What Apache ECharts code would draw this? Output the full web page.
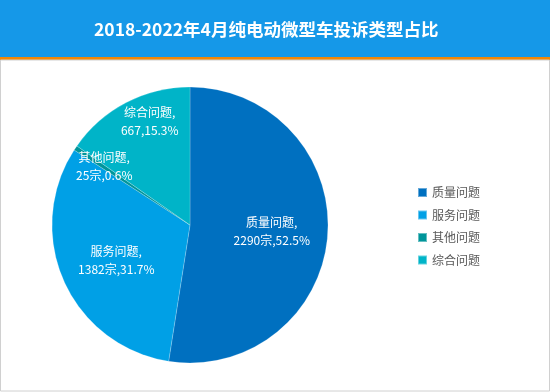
<!DOCTYPE html>
<html><head><meta charset="utf-8">
<script src="https://cdn.jsdelivr.net/npm/echarts@6/dist/echarts.min.js"></script>
<style>html,body{margin:0;padding:0;background:#fff}#c{width:550px;height:392px}</style>
</head><body><div id="c"></div>
<script>
const titleText = '2018-2022年4月纯电动微型车投诉类型占比';
const categories = ['质量问题', '服务问题', '其他问题', '综合问题'];
const counts = [2290, 1382, 25, 667];
const percents = ['52.5%', '31.7%', '0.6%', '15.3%'];
const countUnits = ['宗', '宗', '宗', ''];

const colors = ['#0070C0', '#00A0E6', '#00959A', '#00B4C8'];
const labelShift = [[10, 1], [-8, 6], [-26, -18], [-7, -40]];

const chart = echarts.init(document.getElementById('c'));
const data = categories.map((n, i) => ({
  name: n,
  value: counts[i],
  itemStyle: { color: colors[i] },
  label: { formatter: n + ',\n' + counts[i] + countUnits[i] + ',' + percents[i] }
}));
chart.setOption({
  animation: false,
  graphic: [
    { type: 'rect', shape: { x: 0, y: 0, width: 550, height: 57 }, style: { fill: '#1598E8' }, z: 0 },
    { type: 'rect', shape: { x: 0, y: 57, width: 550, height: 3 }, style: { fill: '#F28705' }, z: 0 },
    { type: 'rect', shape: { x: 0.5, y: 60, width: 549, height: 331 }, style: { fill: 'none', stroke: '#d0d0d0', lineWidth: 1 }, z: 0 }
  ],
  title: {
    text: titleText, left: 89, top: 16,
    textStyle: { color: '#fff', fontSize: 17.5, fontWeight: 'bold', fontFamily: 'Noto Sans CJK SC' }
  },
  legend: {
    orient: 'vertical', left: 412, top: 179, itemWidth: 9, itemHeight: 9, itemGap: 5.5,
    icon: 'rect',
    textStyle: { color: '#595959', fontSize: 12, fontFamily: 'Noto Sans CJK SC', lineHeight: 17 },
    data: categories
  },
  series: [{
    type: 'pie', center: [190, 225], radius: 138, startAngle: 90, clockwise: true,
    label: { position: 'inside', color: '#fff', fontSize: 12, lineHeight: 18, fontFamily: 'Noto Sans CJK SC' },
    labelLayout: function (p) { const s = labelShift[p.dataIndex]; return { dx: s[0], dy: s[1] }; },
    itemStyle: { borderColor: 'rgba(255,255,255,0.4)', borderWidth: 0.5 },
    data: data
  }]
});
</script></body></html>
